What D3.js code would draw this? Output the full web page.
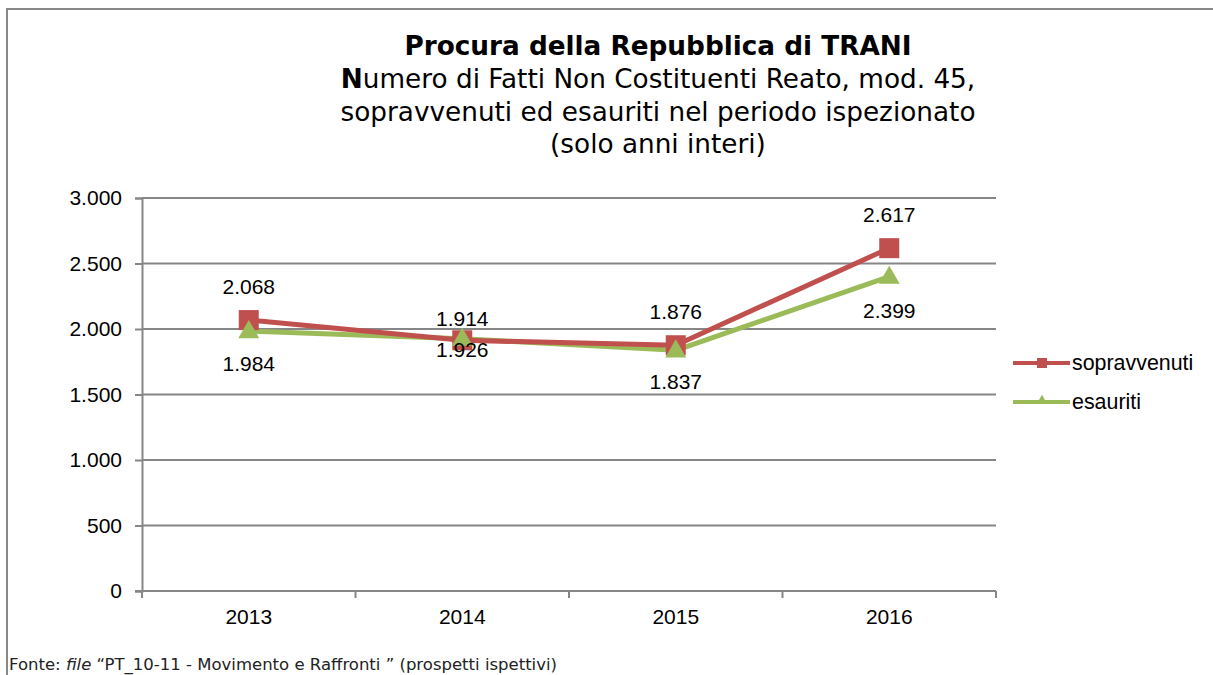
<!DOCTYPE html>
<html>
<head>
<meta charset="utf-8">
<script src="https://cdn.jsdelivr.net/npm/d3@7"></script>
<style>
  body { margin: 0; background: #ffffff; }
</style>
</head>
<body>
<svg id="chart"></svg>
<script>
// anni e valori
var years = ["2013", "2014", "2015", "2016"];
var sopravvenuti = [2068, 1914, 1876, 2617];
var esauriti = [1984, 1926, 1837, 2399];
var yTicks = [0, 500, 1000, 1500, 2000, 2500, 3000];

// spostamento verticale delle etichette (px), come nel file originale
var shiftSop = [-33, -21, -33, -33];
var shiftEsa = [33, 11, 32, 34];

var width = 1213;
var height = 675;
var red = "#C0504D";
var green = "#9BBB59";
var grid = "#868686";

var svg = d3.select("#chart")
    .attr("width", width)
    .attr("height", height);

svg.append("rect").attr("width", width).attr("height", height).attr("fill", "#fff");

// cornice del grafico
svg.append("path")
    .attr("d", "M7,675 L7,9 L1213,9")
    .attr("fill", "none")
    .attr("stroke", "#888")
    .attr("stroke-width", 2);

// titolo
var title = svg.append("text")
    .attr("text-anchor", "middle")
    .style("font-family", "'DejaVu Sans', Verdana, sans-serif")
    .style("font-size", "26.3px")
    .attr("fill", "#000");
title.append("tspan").attr("x", 658).attr("y", 55)
    .style("font-weight", "bold")
    .text("Procura della Repubblica di TRANI");
var l2 = title.append("tspan").attr("x", 658).attr("y", 88);
l2.append("tspan").style("font-weight", "bold").text("N");
l2.append("tspan").text("umero di Fatti Non Costituenti Reato, mod. 45,");
title.append("tspan").attr("x", 658).attr("y", 121)
    .text("sopravvenuti ed esauriti nel periodo ispezionato");
title.append("tspan").attr("x", 658).attr("y", 153)
    .text("(solo anni interi)");

// scale
var xScale = d3.scaleBand()
    .domain(years)
    .range([142, 996]);

var yScale = d3.scaleLinear()
    .domain([0, 3000])
    .range([591, 198]);

var fmt = function(v) { return d3.format(",")(v).replace(/,/g, "."); };

// griglia
svg.append("g")
    .selectAll("line")
    .data(yTicks.slice(1))
    .enter().append("line")
    .attr("x1", 142).attr("x2", 996)
    .attr("y1", function(d) { return yScale(d); })
    .attr("y2", function(d) { return yScale(d); })
    .attr("stroke", grid)
    .attr("stroke-width", 2);

// asse y
var yAxis = svg.append("g")
    .attr("transform", "translate(142,0)")
    .call(d3.axisLeft(yScale).tickValues(yTicks).tickSize(7).tickPadding(13).tickFormat(fmt));
yAxis.select(".domain").attr("stroke", grid).attr("stroke-width", 2);
yAxis.selectAll(".tick line").attr("stroke", grid).attr("stroke-width", 2);
yAxis.selectAll("text")
    .style("font-family", "'Liberation Sans', Arial, sans-serif")
    .style("font-size", "21px")
    .attr("fill", "#000");

// asse x con tacche ai bordi delle categorie
var xAxis = svg.append("g")
    .attr("transform", "translate(0,591)");
xAxis.append("line")
    .attr("x1", 135).attr("x2", 996)
    .attr("stroke", grid).attr("stroke-width", 2);
xAxis.selectAll(".tk")
    .data(years.concat(["end"]))
    .enter().append("line")
    .attr("class", "tk")
    .attr("x1", function(d, i) { return i < years.length ? xScale(d) : xScale(years[years.length - 1]) + xScale.bandwidth(); })
    .attr("x2", function(d, i) { return i < years.length ? xScale(d) : xScale(years[years.length - 1]) + xScale.bandwidth(); })
    .attr("y1", 0).attr("y2", 7)
    .attr("stroke", grid).attr("stroke-width", 2);
xAxis.selectAll(".lbl")
    .data(years)
    .enter().append("text")
    .attr("class", "lbl")
    .attr("x", function(d) { return xScale(d) + xScale.bandwidth() / 2; })
    .attr("y", 33)
    .attr("text-anchor", "middle")
    .style("font-family", "'Liberation Sans', Arial, sans-serif")
    .style("font-size", "21px")
    .text(function(d) { return d; });

var cx = function(d, i) { return xScale(years[i]) + xScale.bandwidth() / 2; };

var line = d3.line()
    .x(function(d, i) { return cx(d, i); })
    .y(function(d) { return yScale(d); });

// linea esauriti
svg.append("path")
    .datum(esauriti)
    .attr("d", line)
    .attr("fill", "none")
    .attr("stroke", green)
    .attr("stroke-width", 5)
    .attr("stroke-linejoin", "round");

// linea sopravvenuti
svg.append("path")
    .datum(sopravvenuti)
    .attr("d", line)
    .attr("fill", "none")
    .attr("stroke", red)
    .attr("stroke-width", 5)
    .attr("stroke-linejoin", "round");

// marcatori
svg.append("g").selectAll("rect")
    .data(sopravvenuti)
    .enter().append("rect")
    .attr("x", function(d, i) { return cx(d, i) - 10; })
    .attr("y", function(d) { return yScale(d) - 10; })
    .attr("width", 20).attr("height", 20)
    .attr("fill", red);

var tri = d3.symbol().type(d3.symbolTriangle).size(190);
svg.append("g").selectAll("path")
    .data(esauriti)
    .enter().append("path")
    .attr("d", tri)
    .attr("transform", function(d, i) { return "translate(" + cx(d, i) + "," + (yScale(d) + 1) + ")"; })
    .attr("fill", green);

// etichette dei valori
var labelFont = "'Liberation Sans', Arial, sans-serif";
svg.append("g").selectAll("text")
    .data(sopravvenuti)
    .enter().append("text")
    .attr("x", function(d, i) { return cx(d, i); })
    .attr("y", function(d, i) { return yScale(d) + shiftSop[i] + 7; })
    .attr("text-anchor", "middle")
    .style("font-family", labelFont)
    .style("font-size", "21px")
    .text(fmt);

svg.append("g").selectAll("text")
    .data(esauriti)
    .enter().append("text")
    .attr("x", function(d, i) { return cx(d, i); })
    .attr("y", function(d, i) { return yScale(d) + shiftEsa[i] + 7; })
    .attr("text-anchor", "middle")
    .style("font-family", labelFont)
    .style("font-size", "21px")
    .text(fmt);

// legenda
var legend = [
    { name: "sopravvenuti", color: red, shape: "square" },
    { name: "esauriti", color: green, shape: "triangle" }
];
var lg = svg.append("g").selectAll("g")
    .data(legend)
    .enter().append("g")
    .attr("transform", function(d, i) { return "translate(1013," + (363 + i * 39) + ")"; });
lg.append("line")
    .attr("x1", 0).attr("x2", 57)
    .attr("stroke", function(d) { return d.color; })
    .attr("stroke-width", 4);
lg.filter(function(d) { return d.shape == "square"; })
    .append("rect")
    .attr("x", 24).attr("y", -5).attr("width", 10).attr("height", 10)
    .attr("fill", function(d) { return d.color; });
lg.filter(function(d) { return d.shape == "triangle"; })
    .append("path")
    .attr("d", d3.symbol().type(d3.symbolTriangle).size(50))
    .attr("transform", "translate(29,-1)")
    .attr("fill", function(d) { return d.color; });
lg.append("text")
    .attr("x", 59).attr("y", 7)
    .style("font-family", labelFont)
    .style("font-size", "21.4px")
    .text(function(d) { return d.name; });

// fonte
var src = svg.append("text")
    .attr("x", 9).attr("y", 670)
    .style("font-family", "'DejaVu Sans', Verdana, sans-serif")
    .style("font-size", "16.5px")
    .attr("fill", "#222");
src.append("tspan").text("Fonte: ");
src.append("tspan").style("font-style", "italic").text("file");
src.append("tspan").text(" \u201CPT_10-11 - Movimento e Raffronti \u201D (prospetti ispettivi)");
</script>
</body>
</html>
